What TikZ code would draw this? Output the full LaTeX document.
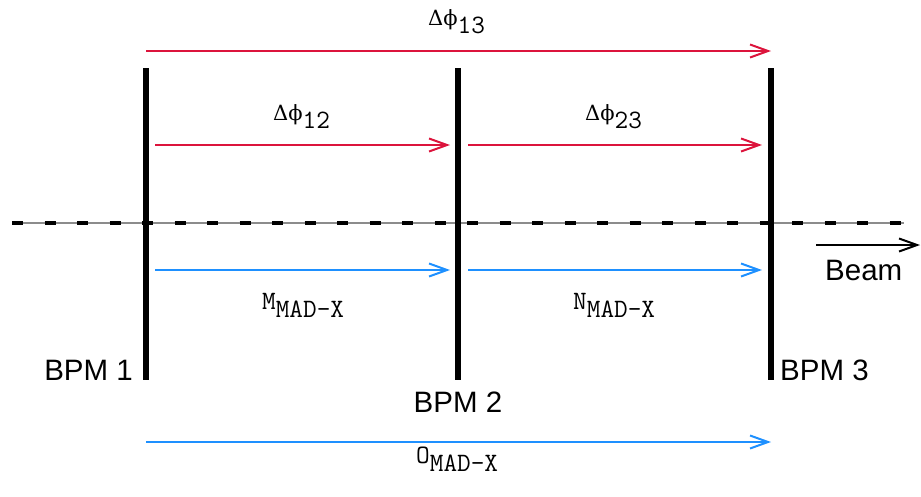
\documentclass[tikz,border=0pt]{standalone}
\usepackage{fontspec}
\setmainfont{Liberation Sans}
\newfontfamily\symf{DejaVu Serif}
\usetikzlibrary{arrows.meta}
\definecolor{phred}{HTML}{DC143C}
\definecolor{madblue}{HTML}{1E90FF}
\tikzset{
  bpm/.style={line width=5.5pt},
  redarr/.style={phred, line width=2pt, -{Straight Barb[length=18pt,width=13pt,line width=2pt]}},
  bluearr/.style={madblue, line width=2pt, -{Straight Barb[length=18pt,width=13pt,line width=2pt]}},
  beamarr/.style={black, line width=2pt, -{Straight Barb[length=18pt,width=13pt,line width=2pt]}},
  lbl/.style={font=\fontsize{29.5}{32}\selectfont, inner sep=0pt},
  sym/.style={font=\fontsize{26.5}{29}\selectfont, inner sep=0pt, anchor=base west},
}
\newcommand{\dphi}[1]{{\symf\fontsize{21}{24}\selectfont Δϕ}\raisebox{-8pt}{\ttfamily #1}}
\newcommand{\madx}[1]{{\ttfamily #1\raisebox{-8pt}{MAD-X}}}
\begin{document}
\begin{tikzpicture}[x=1pt,y=-1pt]
\useasboundingbox (0,0) rectangle (921,496);
% beam axis
\coordinate (axL) at (12,223);
\coordinate (axR) at (904,223);
\draw[gray!90, line width=2pt] (axL) -- (axR);
\draw[black, line width=3.2pt, dash pattern=on 11pt off 21.5pt] (axL) -- (axR);
% BPMs
\coordinate (b1t) at (146,68); \coordinate (b1b) at (146,380);
\coordinate (b2t) at (458,68); \coordinate (b2b) at (458,380);
\coordinate (b3t) at (771,68); \coordinate (b3b) at (771,380);
\draw[bpm] (b1t) -- (b1b);
\draw[bpm] (b2t) -- (b2b);
\draw[bpm] (b3t) -- (b3b);
% red arrows
\coordinate (r13a) at (146,51); \coordinate (r13b) at (771,51);
\coordinate (r12a) at (155,145); \coordinate (r12b) at (450,145);
\coordinate (r23a) at (468,145); \coordinate (r23b) at (762,145);
\draw[redarr] (r13a) -- (r13b);
\draw[redarr] (r12a) -- (r12b);
\draw[redarr] (r23a) -- (r23b);
% blue arrows
\coordinate (m1) at (155,270); \coordinate (m2) at (450,270);
\coordinate (n1) at (468,270); \coordinate (n2) at (762,270);
\coordinate (o1) at (146,442); \coordinate (o2) at (771,442);
\draw[bluearr] (m1) -- (m2);
\draw[bluearr] (n1) -- (n2);
\draw[bluearr] (o1) -- (o2);
% beam arrow
\coordinate (be1) at (816,245); \coordinate (be2) at (920,245);
\draw[beamarr] (be1) -- (be2);
% labels
\node[sym] (l13) at (428,25) {\dphi{13}};
\node[sym] (l12) at (273,120) {\dphi{12}};
\node[sym] (l23) at (585,120) {\dphi{23}};
\node[sym] (lm) at (262,309) {\madx{M}};
\node[sym] (ln) at (573,309) {\madx{N}};
\node[sym] (lo) at (416,463) {\madx{O}};
\node[lbl, anchor=base east] (t1) at (133,380) {BPM 1};
\node[lbl, anchor=base] (t2) at (458,412) {BPM 2};
\node[lbl, anchor=base west] (t3) at (780,380) {BPM 3};
\node[lbl, anchor=base west] (tb) at (825,280) {Beam};
\end{tikzpicture}
\end{document}
